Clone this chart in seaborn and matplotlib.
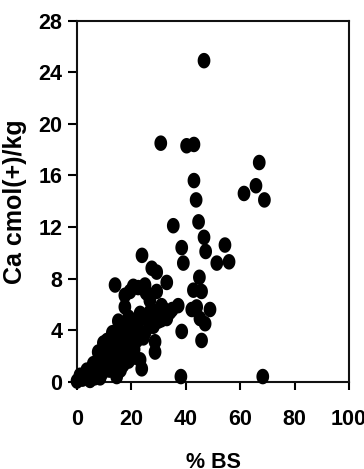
import numpy as np
import matplotlib
matplotlib.use("Agg")
import matplotlib.pyplot as plt
from matplotlib.path import Path
import seaborn as sns
import pandas as pd

# % base saturation (x) and exchangeable Ca (y)
bs = [46.7, 30.8, 40.3, 43.0, 67.0, 43.0, 65.8, 61.4, 68.9, 43.8,
      35.4, 44.7, 46.7, 47.3, 54.4, 38.5, 39.1, 51.4, 55.9, 23.9,
      27.5, 29.3, 33.0, 45.0, 42.8, 45.8, 38.5, 45.8, 38.2, 68.3,
      42.2, 44.0, 48.9, 45.2, 47.1, 37.2, 34.2, 33.0, 31.1, 29.9,
      28.7, 28.7, 28.1, 27.5, 29.3, 14.0, 20.7, 25.0, 17.6, 17.6,
      15.2, 23.2, 26.8, 21.9, 26.8, 25.4, 26.8, 22.5,
      13.3, 18.9, 24.4, 9.7, 7.8, 13.3, 20.7, 23.2, 23.8, 6.0,
      10.9, 17.0, 3.6, 9.7, 14.6, 1.1, 0.0, 4.8, 8.5,
      2.0, 3.0, 5.0, 6.5, 7.0, 8.0, 9.0, 10.0, 11.0, 12.0,
      12.0, 13.0, 14.0, 14.0, 15.0, 15.0, 16.0, 16.0, 17.0, 18.0,
      18.0, 19.0, 19.0, 20.0, 20.0, 21.0, 22.0, 23.0, 25.0, 26.0,
      28.0, 30.0, 31.0, 32.0, 35.0, 11.0, 9.0, 12.0, 16.0, 19.0,
      13.0, 17.0, 19.5, 10.5, 12.5, 15.5, 18.0, 21.5, 16.5, 11.5]
ca = [24.9, 18.5, 18.3, 18.4, 17.0, 15.6, 15.2, 14.6, 14.1, 14.1,
      12.1, 12.4, 11.2, 10.1, 10.6, 10.4, 9.2, 9.2, 9.3, 9.8,
      8.8, 8.5, 7.7, 8.1, 7.1, 7.0, 3.9, 3.2, 0.4, 0.4,
      5.6, 5.8, 5.6, 4.9, 4.5, 5.9, 5.4, 4.9, 5.9, 4.7,
      3.1, 2.3, 4.3, 5.3, 7.0, 7.5, 7.4, 7.5, 6.7, 5.8,
      4.7, 5.3, 5.4, 4.3, 4.3, 6.9, 6.3, 7.3,
      3.4, 3.5, 3.4, 3.0, 2.3, 2.5, 1.9, 1.7, 1.0, 1.4,
      1.6, 1.3, 0.9, 0.8, 0.4, 0.5, 0.05, 0.1, 0.3,
      0.2, 0.4, 0.6, 0.3, 0.9, 1.2, 1.8, 2.2, 2.0, 1.5,
      2.8, 2.0, 1.2, 2.8, 2.2, 3.6, 3.0, 1.8, 2.6, 2.2,
      4.0, 2.8, 5.0, 3.0, 4.5, 2.5, 3.2, 4.8, 3.8, 5.0,
      5.5, 5.4, 4.8, 5.6, 5.6, 3.2, 0.6, 0.9, 0.9, 1.6,
      3.8, 4.2, 7.0, 2.6, 3.3, 2.8, 3.0, 3.9, 3.8, 1.1]

x_ticks = [0, 20, 40, 60, 80, 100]
y_ticks = [0, 4, 8, 12, 16, 20, 24, 28]

df = pd.DataFrame({"bs": bs, "ca": ca})

sns.set_style("white")
plt.rcParams['font.family'] = ['Liberation Sans', 'DejaVu Sans']
plt.rcParams['font.weight'] = 'bold'
plt.rcParams['text.color'] = 'black'
plt.rcParams['axes.labelcolor'] = 'black'
plt.rcParams['xtick.color'] = 'black'
plt.rcParams['ytick.color'] = 'black'

# slightly tall ellipse like the Excel marker
t = np.linspace(0, 2 * np.pi, 60)
ell = Path(np.column_stack([0.41 * np.cos(t), 0.5 * np.sin(t)]), closed=True)

fig = plt.figure(figsize=(3.64, 4.69), dpi=100)
ax = fig.add_axes([0.2115, 0.1861, 0.9588 - 0.2115, 0.9559 - 0.1861])

sns.scatterplot(data=df, x="bs", y="ca", ax=ax, marker=ell, s=125,
                color="black", edgecolor="none", linewidth=0,
                clip_on=False, zorder=3)

ax.set_xlim(0, 100)
ax.set_ylim(0, 28)
ax.set_xticks(x_ticks)
ax.set_yticks(y_ticks)
ax.tick_params(axis='x', direction='out', length=6, width=1.5, pad=13.5,
               labelsize=15.5, bottom=True, colors='black')
ax.tick_params(axis='y', direction='out', length=6.5, width=1.5, pad=4,
               labelsize=15.5, left=True, colors='black')
for lab in ax.get_xticklabels() + ax.get_yticklabels():
    lab.set_fontweight('bold')
for side in ['left', 'bottom', 'top', 'right']:
    ax.spines[side].set_visible(True)
    ax.spines[side].set_linewidth(1.5)
    ax.spines[side].set_color('#111111')

ax.set_xlabel('% BS', fontsize=15.5, fontweight='bold', labelpad=16, color='black')
ax.set_ylabel('Ca cmol(+)/kg', fontsize=18, fontweight='bold', labelpad=8, color='black')

fig.savefig('out.png', dpi=100)
